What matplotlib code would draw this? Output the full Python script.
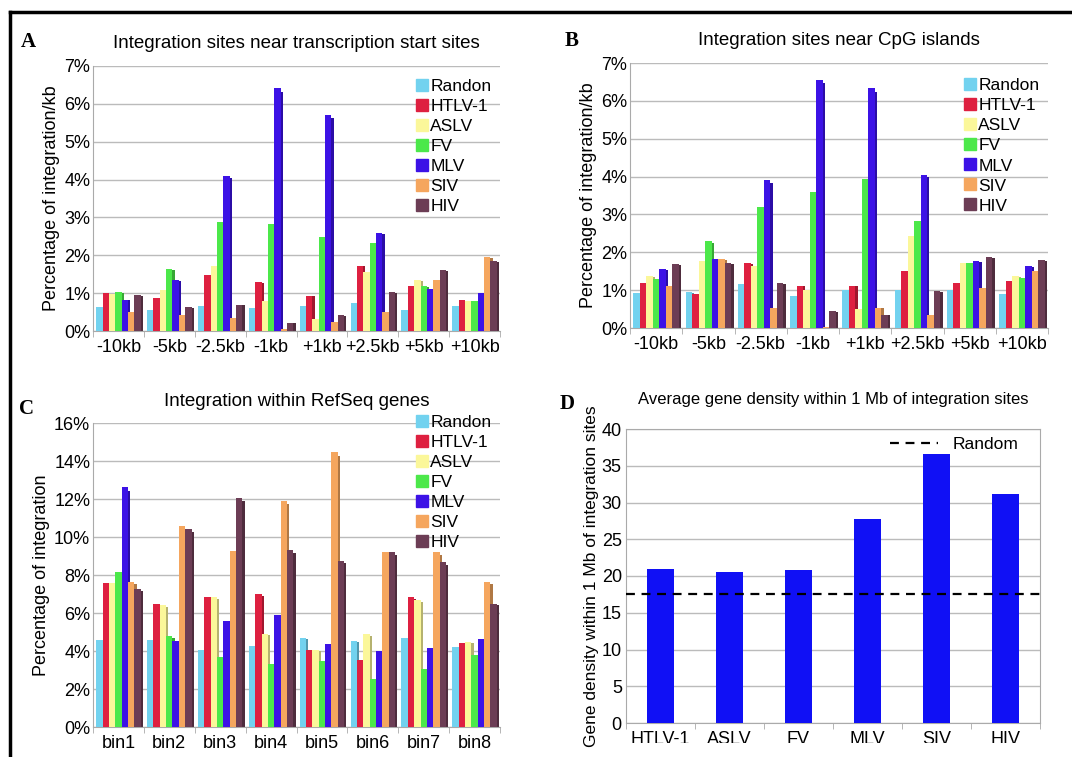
import numpy as np
import matplotlib
matplotlib.use("Agg")
import matplotlib.pyplot as plt
from matplotlib.lines import Line2D
from matplotlib.patches import Rectangle
from matplotlib.colors import to_rgb

plt.rcParams['font.family'] = ['Liberation Sans', 'DejaVu Sans']

viruses = ["Randon", "HTLV-1", "ASLV", "FV", "MLV", "SIV", "HIV"]
colors = ["#72d2ef", "#de2040", "#fbf79a", "#4ce84a", "#3c12e6", "#f5a65e", "#6c3d55"]

# panel A: integration sites near transcription start sites (% per kb)
tss_bins = ["-10kb", "-5kb", "-2.5kb", "-1kb", "+1kb", "+2.5kb", "+5kb", "+10kb"]
tss_randon = [0.63, 0.56, 0.66, 0.61, 0.65, 0.74, 0.56, 0.66]
tss_htlv = [1.00, 0.88, 1.48, 1.29, 0.93, 1.73, 1.18, 0.81]
tss_aslv = [0.98, 1.09, 1.73, 0.80, 0.32, 1.55, 1.35, 0.78]
tss_fv = [1.03, 1.64, 2.89, 2.82, 2.47, 2.32, 1.18, 0.78]
tss_mlv = [0.82, 1.35, 4.10, 6.42, 5.70, 2.60, 1.11, 1.00]
tss_siv = [0.50, 0.41, 0.35, 0.04, 0.24, 0.50, 1.36, 1.96]
tss_hiv = [0.94, 0.63, 0.70, 0.22, 0.41, 1.03, 1.62, 1.86]

# panel B: integration sites near CpG islands (% per kb)
cpg_bins = ["-10kb", "-5kb", "-2.5kb", "-1kb", "+1kb", "+2.5kb", "+5kb", "+10kb"]
cpg_randon = [0.93, 0.95, 1.15, 0.85, 1.01, 1.01, 1.01, 0.91]
cpg_htlv = [1.19, 0.90, 1.72, 1.12, 1.12, 1.50, 1.19, 1.23]
cpg_aslv = [1.37, 1.76, 1.63, 1.00, 0.50, 2.42, 1.72, 1.37]
cpg_fv = [1.30, 2.29, 3.20, 3.58, 3.94, 2.82, 1.72, 1.32]
cpg_mlv = [1.56, 1.82, 3.90, 6.56, 6.34, 4.05, 1.76, 1.63]
cpg_siv = [1.10, 1.82, 0.53, 0.03, 0.53, 0.35, 1.06, 1.50]
cpg_hiv = [1.69, 1.72, 1.19, 0.44, 0.35, 0.97, 1.87, 1.79]

# panel C: integration within RefSeq genes (%)
gene_bins = ["bin1", "bin2", "bin3", "bin4", "bin5", "bin6", "bin7", "bin8"]
gene_randon = [4.56, 4.60, 4.07, 4.26, 4.70, 4.53, 4.70, 4.21]
gene_htlv = [7.58, 6.49, 6.84, 7.02, 4.07, 3.54, 6.84, 4.44]
gene_aslv = [7.60, 6.40, 6.84, 4.91, 4.04, 4.88, 6.67, 4.47]
gene_fv = [8.16, 4.77, 3.68, 3.30, 3.47, 2.54, 3.07, 3.77]
gene_mlv = [12.63, 4.53, 5.58, 5.88, 4.35, 4.00, 4.18, 4.65]
gene_siv = [7.63, 10.56, 9.25, 11.90, 14.50, 9.21, 9.21, 7.63]
gene_hiv = [7.25, 10.40, 12.07, 9.30, 8.74, 9.21, 8.68, 6.50]

# panel D: average gene density within 1 Mb
density_names = ["HTLV-1", "ASLV", "FV", "MLV", "SIV", "HIV"]
density_vals = [20.9, 20.6, 20.8, 27.7, 36.6, 31.1]
density_random = 17.6

W, H = 1072, 757
fig = plt.figure(figsize=(W / 100, H / 100), dpi=100)


def box(left, right, top, bottom):
    return [left / W, (H - bottom) / H, (right - left) / W, (bottom - top) / H]


def shade(c, f=0.72):
    r, g, b = to_rgb(c)
    return (r * f, g * f, b * f)


def grouped(ax, cats, series, ymax, step, pct_fmt, ylabel, leg_y):
    x = np.arange(len(cats))
    w = 0.125
    n = len(series)
    for i, (vals, c) in enumerate(zip(series, colors)):
        pos = x + (i - (n - 1) / 2) * w
        vals = np.array(vals)
        # darker offset copy gives the bars their slight 3D edge
        ax.bar(pos + w * 0.35, vals * 0.985, w, color=shade(c), zorder=2, linewidth=0)
        ax.bar(pos, vals, w, color=c, zorder=3, linewidth=0)
    ax.set_xlim(-0.5, len(cats) - 0.5)
    ax.set_ylim(0, ymax)
    ticks = np.arange(0, ymax + 0.001, step)
    ax.set_yticks(ticks)
    ax.set_yticklabels([pct_fmt % t for t in ticks], fontsize=13)
    ax.set_xticks(x)
    ax.set_xticklabels(cats, fontsize=13)
    ax.set_xticks(np.arange(-0.5, len(cats), 1), minor=True)
    ax.tick_params(axis='x', which='major', length=0, pad=6)
    ax.tick_params(axis='x', which='minor', length=4, color='#aaaaaa')
    ax.tick_params(axis='y', length=0, pad=2)
    ax.grid(axis='y', color='#bbbbbb', linewidth=1.0, zorder=0)
    ax.set_axisbelow(True)
    for s in ['top', 'right']:
        ax.spines[s].set_visible(False)
    for s in ['left', 'bottom']:
        ax.spines[s].set_color('#aaaaaa')
    ax.set_ylabel(ylabel, fontsize=13, labelpad=3)
    handles = [Line2D([], [], marker='s', linestyle='', markersize=9,
                      markerfacecolor=c, markeredgecolor=c) for c in colors]
    ax.legend(handles, viruses, loc='upper right', bbox_to_anchor=(1.0, leg_y),
              frameon=False, fontsize=12.5, handlelength=0.6, handletextpad=0.15,
              labelspacing=0.28, borderaxespad=0.1)


axA = fig.add_axes(box(93, 500, 66, 331))
grouped(axA, tss_bins, [tss_randon, tss_htlv, tss_aslv, tss_fv, tss_mlv, tss_siv, tss_hiv],
        7, 1, "%d%%", "Percentage of integration/kb", 0.985)
axA.set_title("Integration sites near transcription start sites", fontsize=13.5, pad=13)

axB = fig.add_axes(box(630, 1048, 63, 328))
grouped(axB, cpg_bins, [cpg_randon, cpg_htlv, cpg_aslv, cpg_fv, cpg_mlv, cpg_siv, cpg_hiv],
        7, 1, "%d%%", "Percentage of integration/kb", 0.975)
axB.set_title("Integration sites near CpG islands", fontsize=13.5, pad=13)

axC = fig.add_axes(box(93, 500, 423, 727))
grouped(axC, gene_bins, [gene_randon, gene_htlv, gene_aslv, gene_fv, gene_mlv, gene_siv, gene_hiv],
        16, 2, "%d%%", "Percentage of integration", 1.055)
axC.set_title("Integration within RefSeq genes", fontsize=13.5, pad=12)

axD = fig.add_axes(box(626, 1040, 429, 723))
xd = np.arange(len(density_names))
axD.bar(xd, density_vals, 0.39, color="#1010f5", zorder=3, linewidth=0)
axD.axhline(density_random, color='black', linestyle=(0, (4, 3)), linewidth=1.6, zorder=4)
axD.set_xlim(-0.5, len(density_names) - 0.5)
axD.set_ylim(0, 40)
axD.set_yticks(np.arange(0, 41, 5))
axD.tick_params(axis='y', labelsize=13, length=0, pad=3)
axD.set_xticks(xd)
axD.set_xticklabels(density_names, fontsize=13)
axD.set_xticks(np.arange(-0.5, len(density_names), 1), minor=True)
axD.tick_params(axis='x', which='major', length=0, pad=6)
axD.tick_params(axis='x', which='minor', length=4, color='#aaaaaa')
axD.grid(axis='y', color='#bbbbbb', linewidth=1.0, zorder=0)
axD.set_axisbelow(True)
for s in axD.spines.values():
    s.set_color('#aaaaaa')
axD.set_ylabel("Gene density within 1 Mb of integration sites", fontsize=12.5, labelpad=2)
axD.set_title("Average gene density within 1 Mb of integration sites", fontsize=12, pad=18)
axD.legend([Line2D([], [], color='black', linestyle=(0, (4, 3)), linewidth=1.6)], ["Random"],
           loc='upper right', bbox_to_anchor=(0.985, 1.025), frameon=False, fontsize=12.5,
           handlelength=2.8, handletextpad=0.8)

# panel letters
for letter, (px, py) in zip("ABCD", [(28, 42), (572, 41), (27, 409), (567, 404)]):
    fig.text(px / W, 1 - py / H, letter, fontsize=15, fontweight='bold',
             family='Liberation Serif', ha='center', va='center')

# frame lines along the top and left edge
fig.add_artist(Line2D([10 / W, 1070 / W], [1 - 12 / H, 1 - 12 / H], color='black', linewidth=2.5))
fig.add_artist(Line2D([10 / W, 10 / W], [0, 1 - 12 / H], color='black', linewidth=2.5))
# lower strip is cut off below the panel D axis labels
fig.add_artist(Rectangle((612 / W, 0), 1 - 612 / W, 14 / H, transform=fig.transFigure,
                         facecolor='white', edgecolor='none', zorder=10))

fig.savefig("out.png", dpi=100)
